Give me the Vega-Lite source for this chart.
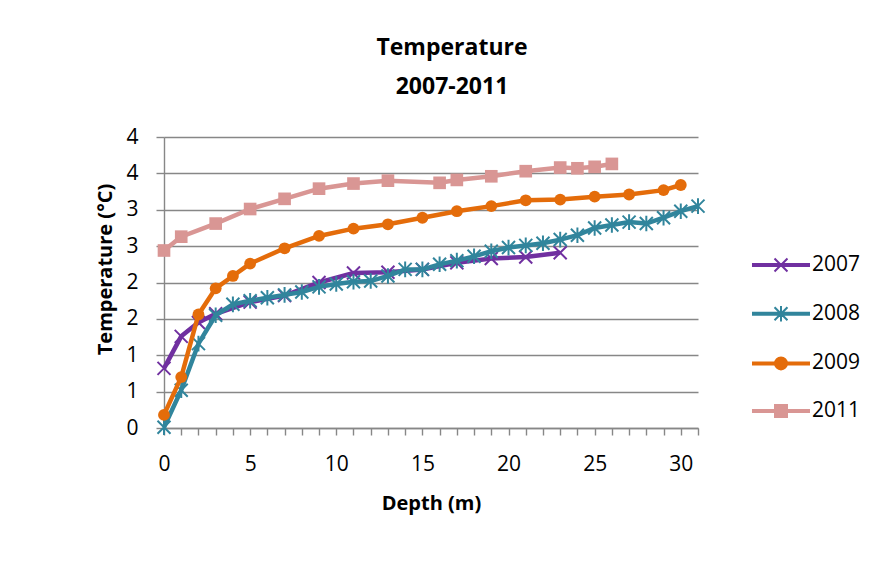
{
  "$schema": "https://vega.github.io/schema/vega-lite/v6.json",
  "width": 534,
  "height": 291,
  "autosize": {"type": "none"},
  "padding": {"left": 164, "top": 137, "right": 179, "bottom": 135},
  "background": "white",
  "title": {
    "text": ["Temperature", "2007-2011"],
    "font": "Open Sans",
    "fontSize": 23,
    "fontWeight": "bold",
    "color": "#000000",
    "lineHeight": 39,
    "dx": 21,
    "offset": 27
  },
  "data": {
    "values": [
      {"year": "2007", "depth": 0, "temp": 0.82},
      {"year": "2007", "depth": 1, "temp": 1.26},
      {"year": "2007", "depth": 2, "temp": 1.45},
      {"year": "2007", "depth": 3, "temp": 1.57},
      {"year": "2007", "depth": 5, "temp": 1.73},
      {"year": "2007", "depth": 7, "temp": 1.82},
      {"year": "2007", "depth": 9, "temp": 2.0},
      {"year": "2007", "depth": 11, "temp": 2.13},
      {"year": "2007", "depth": 13, "temp": 2.14},
      {"year": "2007", "depth": 15, "temp": 2.18},
      {"year": "2007", "depth": 17, "temp": 2.27},
      {"year": "2007", "depth": 19, "temp": 2.33},
      {"year": "2007", "depth": 21, "temp": 2.35},
      {"year": "2007", "depth": 23, "temp": 2.41},
      {"year": "2008", "depth": 0, "temp": 0.01},
      {"year": "2008", "depth": 1, "temp": 0.52},
      {"year": "2008", "depth": 2, "temp": 1.16},
      {"year": "2008", "depth": 3, "temp": 1.55},
      {"year": "2008", "depth": 4, "temp": 1.7},
      {"year": "2008", "depth": 5, "temp": 1.75},
      {"year": "2008", "depth": 6, "temp": 1.79},
      {"year": "2008", "depth": 7, "temp": 1.83},
      {"year": "2008", "depth": 8, "temp": 1.87},
      {"year": "2008", "depth": 9, "temp": 1.94},
      {"year": "2008", "depth": 10, "temp": 1.98},
      {"year": "2008", "depth": 11, "temp": 2.01},
      {"year": "2008", "depth": 12, "temp": 2.02},
      {"year": "2008", "depth": 13, "temp": 2.09},
      {"year": "2008", "depth": 14, "temp": 2.18},
      {"year": "2008", "depth": 15, "temp": 2.18},
      {"year": "2008", "depth": 16, "temp": 2.25},
      {"year": "2008", "depth": 17, "temp": 2.3},
      {"year": "2008", "depth": 18, "temp": 2.36},
      {"year": "2008", "depth": 19, "temp": 2.43},
      {"year": "2008", "depth": 20, "temp": 2.48},
      {"year": "2008", "depth": 21, "temp": 2.51},
      {"year": "2008", "depth": 22, "temp": 2.54},
      {"year": "2008", "depth": 23, "temp": 2.59},
      {"year": "2008", "depth": 24, "temp": 2.65},
      {"year": "2008", "depth": 25, "temp": 2.75},
      {"year": "2008", "depth": 26, "temp": 2.79},
      {"year": "2008", "depth": 27, "temp": 2.83},
      {"year": "2008", "depth": 28, "temp": 2.81},
      {"year": "2008", "depth": 29, "temp": 2.89},
      {"year": "2008", "depth": 30, "temp": 2.98},
      {"year": "2008", "depth": 31, "temp": 3.05},
      {"year": "2009", "depth": 0, "temp": 0.18},
      {"year": "2009", "depth": 1, "temp": 0.7},
      {"year": "2009", "depth": 2, "temp": 1.56},
      {"year": "2009", "depth": 3, "temp": 1.92},
      {"year": "2009", "depth": 4, "temp": 2.09},
      {"year": "2009", "depth": 5, "temp": 2.26},
      {"year": "2009", "depth": 7, "temp": 2.47},
      {"year": "2009", "depth": 9, "temp": 2.64},
      {"year": "2009", "depth": 11, "temp": 2.74},
      {"year": "2009", "depth": 13, "temp": 2.8},
      {"year": "2009", "depth": 15, "temp": 2.89},
      {"year": "2009", "depth": 17, "temp": 2.98},
      {"year": "2009", "depth": 19, "temp": 3.05},
      {"year": "2009", "depth": 21, "temp": 3.13},
      {"year": "2009", "depth": 23, "temp": 3.14},
      {"year": "2009", "depth": 25, "temp": 3.18},
      {"year": "2009", "depth": 27, "temp": 3.21},
      {"year": "2009", "depth": 29, "temp": 3.27},
      {"year": "2009", "depth": 30, "temp": 3.34},
      {"year": "2011", "depth": 0, "temp": 2.44},
      {"year": "2011", "depth": 1, "temp": 2.63},
      {"year": "2011", "depth": 3, "temp": 2.81},
      {"year": "2011", "depth": 5, "temp": 3.01},
      {"year": "2011", "depth": 7, "temp": 3.15},
      {"year": "2011", "depth": 9, "temp": 3.29},
      {"year": "2011", "depth": 11, "temp": 3.36},
      {"year": "2011", "depth": 13, "temp": 3.4},
      {"year": "2011", "depth": 16, "temp": 3.37},
      {"year": "2011", "depth": 17, "temp": 3.41},
      {"year": "2011", "depth": 19, "temp": 3.46},
      {"year": "2011", "depth": 21, "temp": 3.53},
      {"year": "2011", "depth": 23, "temp": 3.58},
      {"year": "2011", "depth": 24, "temp": 3.57},
      {"year": "2011", "depth": 25, "temp": 3.59},
      {"year": "2011", "depth": 26, "temp": 3.63}
    ]
  },
  "encoding": {
    "x": {
      "field": "depth",
      "type": "quantitative",
      "scale": {"domain": [0, 31], "nice": false, "zero": false},
      "axis": {
        "title": "Depth (m)",
        "grid": false,
        "values": [0,1,2,3,4,5,6,7,8,9,10,11,12,13,14,15,16,17,18,19,20,21,22,23,24,25,26,27,28,29,30,31],
        "labelExpr": "datum.value % 5 === 0 ? datum.label : ''",
        "tickSize": 7,
        "labelPadding": 18,
        "labelFlush": false,
        "labelOverlap": false,
        "titleY": 75,
        "titleBaseline": "middle"
      }
    },
    "y": {
      "field": "temp",
      "type": "quantitative",
      "scale": {"domain": [0, 4], "nice": false},
      "axis": {
        "title": "Temperature (°C)",
        "grid": true,
        "values": [0, 0.5, 1, 1.5, 2, 2.5, 3, 3.5, 4],
        "labelExpr": "format(round(datum.value), 'd')",
        "tickSize": 8,
        "labelPadding": 18,
        "labelFlush": false,
        "labelOverlap": false,
        "titleAngle": -90,
        "titleX": -59,
        "titleY": 132,
        "titleAlign": "center",
        "titleBaseline": "middle"
      }
    }
  },
  "layer": [
    {
      "transform": [{"filter": "datum.year === '2007'"}],
      "mark": {"type": "line", "strokeWidth": 4.5, "point": {"shape": "M-1,-1L1,1M1,-1L-1,1", "filled": false, "size": 169, "strokeWidth": 2}},
      "encoding": {"color": {"value": "#7030A0"}}
    },
    {
      "transform": [{"filter": "datum.year === '2008'"}],
      "mark": {"type": "line", "strokeWidth": 4.5, "point": {"shape": "M-1,-1L1,1M1,-1L-1,1M0,-1.2L0,1.2", "filled": false, "size": 169, "strokeWidth": 2}},
      "encoding": {"color": {"value": "#31859C"}}
    },
    {
      "transform": [{"filter": "datum.year === '2009'"}],
      "mark": {"type": "line", "strokeWidth": 4.5, "point": {"shape": "circle", "filled": true, "size": 140, "opacity": 1}},
      "encoding": {"color": {"value": "#E46C0A"}}
    },
    {
      "transform": [{"filter": "datum.year === '2011'"}],
      "mark": {"type": "line", "strokeWidth": 4.5, "point": {"shape": "square", "filled": true, "size": 160, "opacity": 1}},
      "encoding": {"color": {"value": "#D99694"}}
    },
    {
      "transform": [{"filter": "datum.depth < 0"}],
      "mark": {"type": "point", "filled": true, "strokeWidth": 2, "opacity": 1},
      "encoding": {
        "color": {
          "field": "year", "type": "nominal",
          "scale": {"domain": ["2007", "2008", "2009", "2011"], "range": ["#7030A0", "#31859C", "#E46C0A", "#D99694"]}
        },
        "stroke": {
          "field": "year", "type": "nominal",
          "scale": {"domain": ["2007", "2008", "2009", "2011"], "range": ["#7030A0", "#31859C", "#E46C0A", "#D99694"]}
        },
        "shape": {
          "field": "year", "type": "nominal",
          "scale": {
            "domain": ["2007", "2008", "2009", "2011"],
            "range": [
              "M-1.167,-0.042L1.167,-0.042L1.167,0.042L-1.167,0.042ZM-0.27,-0.27L0.27,0.27M0.27,-0.27L-0.27,0.27",
              "M-1.167,-0.042L1.167,-0.042L1.167,0.042L-1.167,0.042ZM-0.27,-0.27L0.27,0.27M0.27,-0.27L-0.27,0.27M0,-0.32L0,0.32",
              "M-1.167,-0.042L1.167,-0.042L1.167,0.042L-1.167,0.042ZM-0.25,0A0.25,0.25 0 1,1 0.25,0A0.25,0.25 0 1,1 -0.25,0Z",
              "M-1.167,-0.042L1.167,-0.042L1.167,0.042L-1.167,0.042ZM-0.25,-0.25L0.25,-0.25L0.25,0.25L-0.25,0.25Z"
            ]
          }
        }
      }
    }
  ],
  "config": {
    "view": {"stroke": null},
    "font": "Open Sans",
    "axis": {
      "labelFont": "Open Sans",
      "labelFontSize": 21,
      "labelColor": "#000000",
      "titleFont": "Open Sans",
      "titleFontSize": 20,
      "titleFontWeight": "bold",
      "titleColor": "#000000",
      "domainColor": "#878787",
      "domainWidth": 1.4,
      "tickColor": "#878787",
      "tickWidth": 1.4,
      "gridColor": "#878787",
      "gridWidth": 1.4,
      "gridOpacity": 1
    },
    "legend": {
      "orient": "none",
      "legendX": 592,
      "legendY": 103,
      "title": null,
      "padding": 0,
      "symbolSize": 2304,
      "symbolStrokeWidth": 2,
      "symbolOpacity": 1,
      "labelFont": "Open Sans",
      "labelFontSize": 21,
      "labelColor": "#000000",
      "labelOffset": 6,
      "rowPadding": 12.7,
      "labelLimit": 200
    }
  }
}
